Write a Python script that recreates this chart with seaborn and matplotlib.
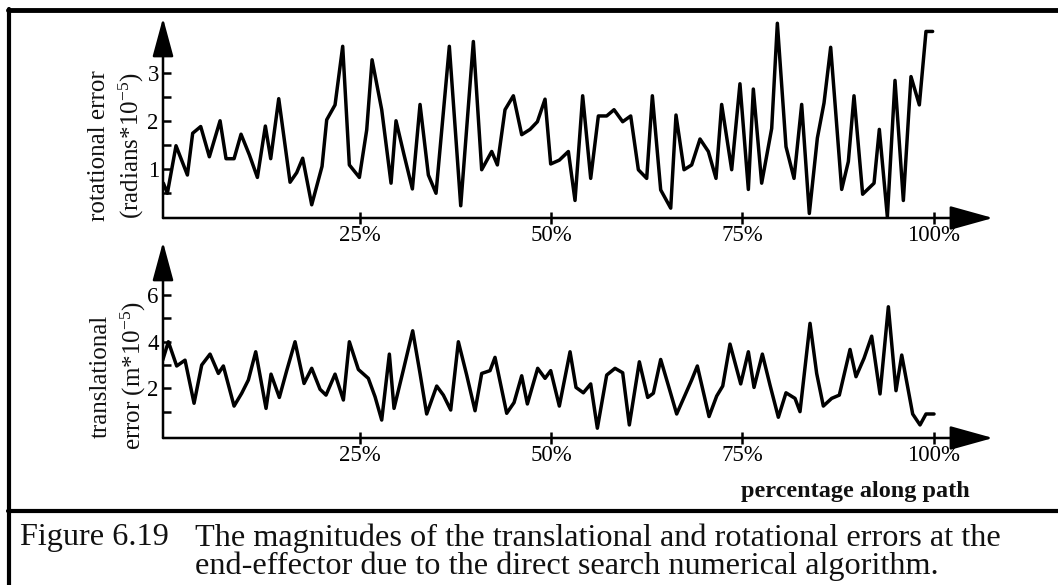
import matplotlib
matplotlib.use("Agg")
import matplotlib.pyplot as plt
from matplotlib.lines import Line2D
import pandas as pd
import seaborn as sns

# ---- data (x in % along path) ----
rot_x = [-0.70, -0.18, 0.95, 2.44, 3.13, 4.18, 5.31, 6.71, 7.49, 8.54, 9.45, 10.54, 11.59, 12.63, 13.33,
         14.38, 15.86, 16.73, 17.51, 18.69, 20.04, 20.65, 21.74, 22.74, 23.61, 24.92, 25.88, 26.58, 27.84,
         29.06, 29.71, 30.76, 31.85, 32.85, 33.94, 34.94, 36.68, 38.17, 39.82, 40.91, 42.22, 42.96, 43.96,
         45.05, 46.14, 47.23, 48.19, 49.19, 49.93, 51.06, 52.24, 53.11, 54.11, 55.16, 56.16, 57.25, 58.21,
         59.34, 60.39, 61.39, 62.48, 63.22, 64.31, 65.62, 66.31, 67.36, 68.36, 69.45, 70.54, 71.54, 72.28,
         73.59, 74.67, 75.77, 76.42, 77.51, 78.82, 79.56, 80.69, 81.74, 82.74, 83.74, 84.79, 85.66, 86.53,
         87.97, 88.84, 89.58, 90.71, 92.20, 92.89, 93.94, 94.94, 96.03, 97.03, 98.12, 98.99, 99.86]
rot_err = [0.71, 0.50, 1.49, 0.88, 1.75, 1.89, 1.26, 2.01, 1.22, 1.22, 1.73, 1.30, 0.83, 1.90, 1.22,
           2.47, 0.73, 0.93, 1.23, 0.26, 1.06, 2.03, 2.34, 3.56, 1.09, 0.83, 1.82, 3.28, 2.24,
           0.71, 2.01, 1.30, 0.59, 2.35, 0.88, 0.50, 3.56, 0.24, 3.66, 0.99, 1.37, 1.09, 2.24,
           2.53, 1.72, 1.83, 1.99, 2.46, 1.11, 1.19, 1.37, 0.35, 2.53, 0.81, 2.11, 2.11, 2.24,
           1.99, 2.11, 0.99, 0.81, 2.53, 0.57, 0.19, 2.13, 0.99, 1.09, 1.63, 1.37, 0.81, 2.35,
           0.99, 2.78, 0.58, 2.67, 0.71, 1.85, 4.04, 1.47, 0.81, 2.35, 0.08, 1.65, 2.38, 3.54,
           0.58, 1.16, 2.53, 0.48, 0.71, 1.83, 0.01, 2.85, 0.35, 2.93, 2.34, 3.87, 3.87]

trans_x = [-0.79, -0.05, 1.04, 2.13, 3.31, 4.31, 5.40, 6.49, 7.14, 8.54, 9.54, 10.41, 11.37, 12.72, 13.37,
           14.46, 15.42, 16.51, 17.69, 18.69, 19.78, 20.56, 21.74, 22.83, 23.61, 24.79, 26.09, 26.97, 27.84,
           28.84, 29.45, 30.67, 31.89, 32.85, 33.72, 35.03, 35.90, 36.86, 37.86, 38.95, 40.04, 40.91, 42.00,
           42.65, 44.18, 45.14, 46.14, 46.88, 48.23, 49.19, 49.93, 51.06, 52.46, 53.24, 54.20, 55.16, 56.03,
           57.25, 58.34, 59.34, 60.21, 61.52, 62.61, 63.35, 64.31, 65.36, 66.40, 67.49, 68.36, 69.10, 70.63,
           71.63, 72.42, 73.37, 74.77, 75.77, 76.51, 77.60, 78.60, 79.69, 80.69, 81.87, 82.52, 83.83, 84.70,
           85.57, 86.66, 87.66, 89.06, 89.84, 90.89, 91.89, 92.98, 94.07, 95.07, 95.82, 96.55, 97.25, 98.21,
           98.99, 100.04]
trans_err = [3.21, 4.00, 2.96, 3.21, 1.36, 3.00, 3.47, 2.64, 2.96, 1.24, 1.79, 2.36, 3.57, 1.14, 2.61,
             1.61, 2.76, 4.00, 2.21, 2.86, 1.96, 1.71, 2.61, 1.50, 4.00, 2.81, 2.43, 1.64, 0.64,
             3.47, 1.14, 2.79, 4.47, 2.64, 0.90, 2.10, 1.71, 1.07, 4.00, 2.57, 1.04, 2.64, 2.76,
             3.33, 0.93, 1.39, 2.54, 1.33, 2.86, 2.43, 2.76, 1.24, 3.57, 2.04, 1.81, 2.19, 0.29,
             2.57, 2.86, 2.67, 0.43, 3.14, 1.61, 1.79, 3.24, 2.07, 0.90, 1.71, 2.36, 2.96, 0.79,
             1.67, 2.10, 3.90, 2.19, 3.57, 2.04, 3.47, 2.14, 0.76, 1.81, 1.57, 1.00, 4.79, 2.64,
             1.24, 1.57, 1.71, 3.67, 2.50, 3.29, 4.24, 1.76, 5.50, 1.90, 3.43, 2.14, 0.90, 0.43,
             0.90, 0.90]

pct_ticks = [25, 50, 75, 100]
pct_labels = ["25%", "50%", "75%", "100%"]
rot_major = [1, 2, 3]
rot_minor = [0.5, 1.5, 2.5]
trans_major = [2, 4, 6]
trans_minor = [1, 3, 5]

rot_df = pd.DataFrame({"pct": rot_x, "err": rot_err})
trans_df = pd.DataFrame({"pct": trans_x, "err": trans_err})

sns.set_style("white")
plt.rcParams["font.family"] = ["Liberation Serif", "DejaVu Serif"]
plt.rcParams["mathtext.fontset"] = "custom"
plt.rcParams["mathtext.rm"] = "Liberation Serif"
plt.rcParams["mathtext.it"] = "Liberation Serif:italic"
plt.rcParams["text.color"] = "#111111"

W, H = 1058, 585
fig = plt.figure(figsize=(W / 100, H / 100), dpi=100)
fig.patch.set_facecolor("white")

ax_top = fig.add_axes([163 / W, 1 - 218 / H, (993 - 163) / W, 200 / H])
ax_bot = fig.add_axes([163 / W, 1 - 438 / H, (993 - 163) / W, 196 / H])


def style(ax, ylim, major, minor):
    ax.set_xlim(-0.75, 107.75)
    ax.set_ylim(*ylim)
    for s in ax.spines.values():
        s.set_visible(False)
    ax.set_facecolor("none")
    ax.grid(False)
    ax.set_xticks(pct_ticks)
    ax.set_xticklabels(pct_labels)
    ax.set_yticks(major)
    ax.set_yticks(minor, minor=True)
    ax.tick_params(axis="x", direction="inout", length=8, width=1.8, labelsize=16.5, pad=1,
                   colors="black", bottom=True)
    ax.tick_params(axis="y", which="both", direction="in", length=6, width=1.8, labelsize=16.5,
                   pad=3, colors="black", left=True)
    ax.set_xlabel("")
    ax.set_ylabel("")
    ax.annotate("", xy=(0, 1), xytext=(0, 0), xycoords="axes fraction", textcoords="axes fraction",
                arrowprops=dict(arrowstyle="-|>,head_length=24,head_width=6.5", mutation_scale=1,
                                shrinkA=0, shrinkB=0, lw=1.8, color="black"))
    ax.annotate("", xy=(1, 0), xytext=(0, 0), xycoords="axes fraction", textcoords="axes fraction",
                arrowprops=dict(arrowstyle="-|>,head_length=27,head_width=7.5", mutation_scale=1,
                                shrinkA=0, shrinkB=0, lw=1.8, color="black"))


sns.lineplot(data=rot_df, x="pct", y="err", ax=ax_top, color="black", linewidth=2.5, sort=False)
sns.lineplot(data=trans_df, x="pct", y="err", ax=ax_bot, color="black", linewidth=2.5, sort=False)
style(ax_top, (-0.015, 4.15), rot_major, rot_minor)
style(ax_bot, (-0.13, 8.28), trans_major, trans_minor)

fig.text(117 / W, 1 - 146 / H, "rotational error\n(radians*10$^{-5}$)", rotation=90,
         ha="center", va="center", multialignment="center", fontsize=18, linespacing=1.35)
fig.text(119 / W, 1 - 376 / H, "translational\nerror (m*10$^{-5}$)", rotation=90,
         ha="center", va="center", multialignment="center", fontsize=18, linespacing=1.35)

fig.text(970 / W, 1 - 491 / H, "percentage along path", ha="right", va="center",
         fontweight="bold", fontsize=17.5)

fig.text(20 / W, 1 - 538 / H, "Figure 6.19", ha="left", va="center", fontsize=23.2)
fig.text(195 / W, 1 - 538 / H, "The magnitudes of the translational and rotational errors at the",
         ha="left", va="center", fontsize=23.2)
fig.text(195 / W, 1 - 566 / H, "end-effector due to the direct search numerical algorithm.",
         ha="left", va="center", fontsize=23.2)

# frame lines
fig.add_artist(Line2D([9 / W, 9 / W], [0, 1 - 9 / H], transform=fig.transFigure, color="black", lw=3))
fig.add_artist(Line2D([7.5 / W, 1], [1 - 10 / H, 1 - 10 / H], transform=fig.transFigure, color="black", lw=3.5))
fig.add_artist(Line2D([7.5 / W, 1], [1 - 511 / H, 1 - 511 / H], transform=fig.transFigure, color="black", lw=3))

fig.savefig("out.png", dpi=100, facecolor="white")
